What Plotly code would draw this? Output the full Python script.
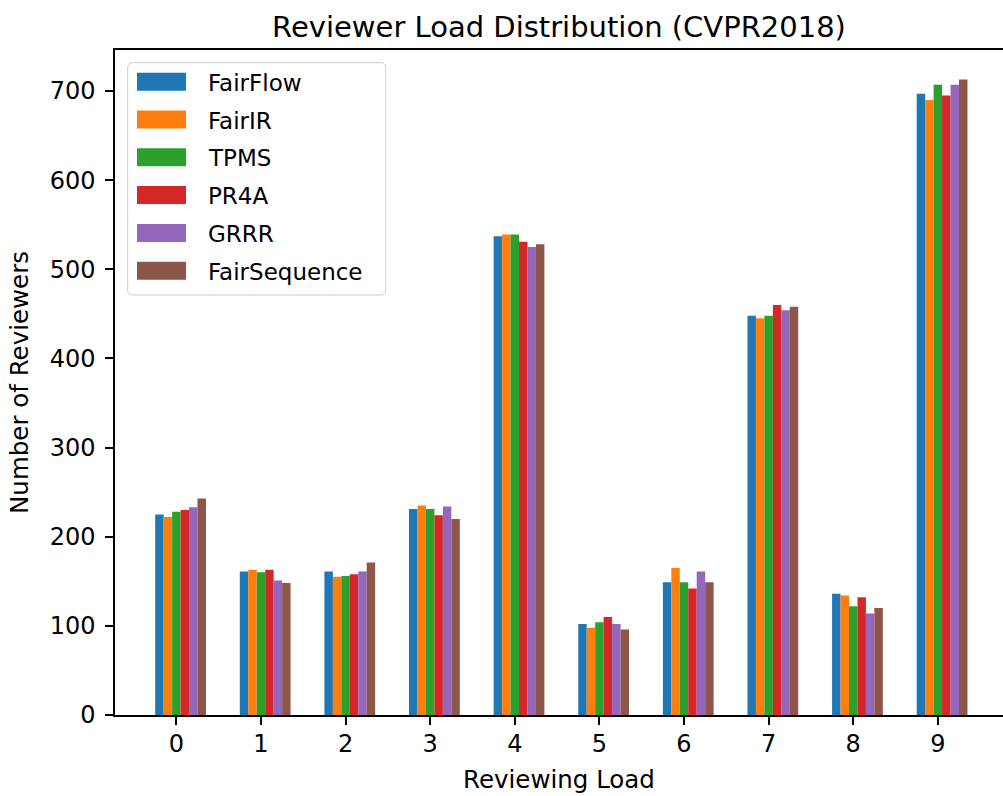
import plotly.graph_objects as go

loads = [0, 1, 2, 3, 4, 5, 6, 7, 8, 9]
tick_labels = ["0", "1", "2", "3", "4", "5", "6", "7", "8", "9"]

fairflow = [225, 161, 161, 231, 537, 102, 149, 448, 136, 697]
fairir = [222, 163, 155, 235, 539, 98, 165, 445, 134, 690]
tpms = [228, 160, 156, 231, 539, 104, 149, 448, 122, 707]
pr4a = [230, 163, 158, 224, 531, 110, 142, 460, 132, 695]
grrr = [233, 151, 161, 234, 525, 102, 161, 454, 114, 707]
fairsequence = [243, 148, 171, 220, 528, 96, 149, 458, 120, 713]

series_names = ["FairFlow", "FairIR", "TPMS", "PR4A", "GRRR", "FairSequence"]
series_values = [fairflow, fairir, tpms, pr4a, grrr, fairsequence]
colors = ["#1f77b4", "#ff7f0e", "#2ca02c", "#d62728", "#9467bd", "#8c564b"]

bar_w = 0.1
FONT = "DejaVu Sans"

W, H = 1003, 796
ML, MR, MT, MB = 115, 0, 50, 81
PW, PH = W - ML - MR, H - MT - MB


def px_x(px):
    return (px - ML) / PW


def px_y(py):
    return (H - MB - py) / PH


fig = go.Figure()
for i, (name, vals, col) in enumerate(zip(series_names, series_values, colors)):
    fig.add_trace(go.Bar(
        x=loads, y=vals, name=name,
        marker=dict(color=col, line=dict(width=0)),
        width=bar_w, offset=i * bar_w - 0.25,
        showlegend=False,
    ))

# legend (matplotlib style: wide patches, rounded frame)
shapes = []
annotations = []
bx0, bx1, by0, by1 = 127.7, 385.7, 62.7, 295.0
hw, hh, r = (bx1 - bx0) / 2, (by1 - by0) / 2, 5
frame = (f"M {-hw + r},{-hh} L {hw - r},{-hh} Q {hw},{-hh} {hw},{-hh + r} "
         f"L {hw},{hh - r} Q {hw},{hh} {hw - r},{hh} L {-hw + r},{hh} "
         f"Q {-hw},{hh} {-hw},{hh - r} L {-hw},{-hh + r} Q {-hw},{-hh} {-hw + r},{-hh} Z")
shapes.append(dict(type="path", xref="paper", yref="paper",
                   xsizemode="pixel", ysizemode="pixel",
                   xanchor=px_x((bx0 + bx1) / 2), yanchor=px_y((by0 + by1) / 2),
                   path=frame, fillcolor="rgba(255,255,255,0.8)",
                   line=dict(color="#cccccc", width=1), layer="above"))
row0, row_gap, ph = 81.7, 37.8, 18
for k, (name, col) in enumerate(zip(series_names, colors)):
    cy = row0 + k * row_gap
    shapes.append(dict(type="rect", xref="paper", yref="paper",
                       x0=px_x(137), x1=px_x(186), y0=px_y(cy - ph / 2), y1=px_y(cy + ph / 2),
                       fillcolor=col, line=dict(width=0), layer="above"))
    annotations.append(dict(text=name, xref="paper", yref="paper",
                            x=px_x(206), y=px_y(cy + 1), xanchor="left", yanchor="middle",
                            showarrow=False, font=dict(family=FONT, size=23, color="black")))

fig.update_layout(
    width=W, height=H,
    margin=dict(l=ML, r=MR, t=MT, b=MB),
    paper_bgcolor="white", plot_bgcolor="white",
    barmode="overlay", showlegend=False,
    font=dict(family=FONT, size=24, color="black"),
    title=dict(text="Reviewer Load Distribution (CVPR2018)",
               x=0.5, xref="paper", xanchor="center",
               y=1 - 27 / H, yref="container", yanchor="middle",
               font=dict(size=29, family=FONT, color="black")),
    shapes=shapes, annotations=annotations,
)
fig.update_xaxes(
    range=[-0.725, 9.77], tickmode="array", tickvals=loads, ticktext=tick_labels,
    showline=True, linecolor="black", linewidth=1.5, mirror=True,
    ticks="outside", ticklen=8, tickwidth=1.5, tickcolor="black",
    tickfont=dict(size=24), ticklabelstandoff=-2,
    showgrid=False, zeroline=False,
    title=dict(text="Reviewing Load", standoff=14, font=dict(size=24.5, family=FONT)),
)
fig.update_yaxes(
    range=[0, 746], tickmode="array", tickvals=[0, 100, 200, 300, 400, 500, 600, 700],
    showline=True, linecolor="black", linewidth=1.5, mirror=False,
    ticks="outside", ticklen=8, tickwidth=1.5, tickcolor="black",
    tickfont=dict(size=24), ticklabelstandoff=5,
    showgrid=False, zeroline=False,
    title=dict(text="Number of Reviewers", standoff=14, font=dict(size=24.5, family=FONT)),
)

fig.write_html("out.html", config={"displayModeBar": False},
               post_script="document.body.style.margin='0';")
